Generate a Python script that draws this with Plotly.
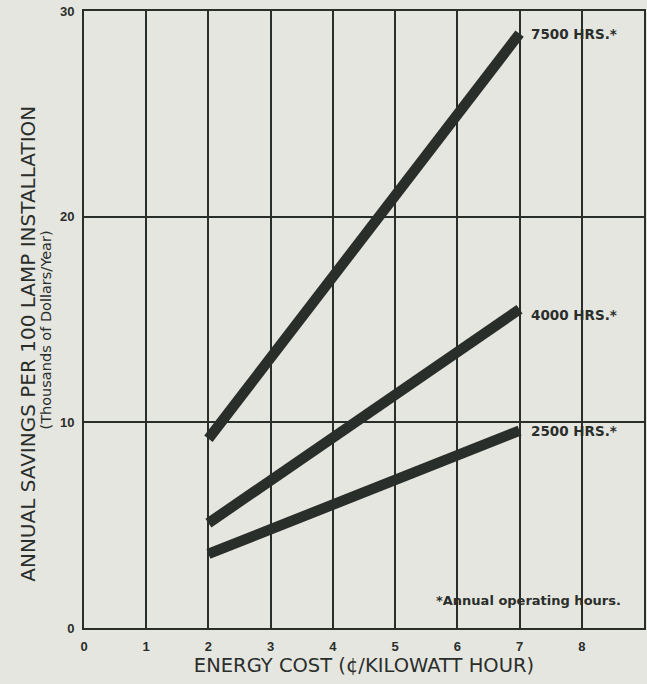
import plotly.graph_objects as go

# Energy cost (cents per kWh) at the two ends of each savings line
energy_cost = [2, 7]

# Annual savings per 100-lamp installation, thousands of dollars per year
savings_7500 = [9.2, 28.9]
savings_4000 = [5.1, 15.5]
savings_2500 = [3.6, 9.6]

series_names = ["7500 HRS.*", "4000 HRS.*", "2500 HRS.*"]
series_values = [savings_7500, savings_4000, savings_2500]

x_ticks = [0, 1, 2, 3, 4, 5, 6, 7, 8, 9]
y_ticks = [0, 10, 20, 30]

INK = "#2a2e2b"
PAPER = "#e6e6e0"
FONT = "Liberation Sans, Arial, Helvetica, sans-serif"
WIDE = "DejaVu Sans, Verdana, sans-serif"

fig = go.Figure()

for name, vals in zip(series_names, series_values):
    fig.add_trace(go.Scatter(
        x=energy_cost, y=vals, mode="lines", name=name,
        line=dict(color=INK, width=10.5),
        hoverinfo="x+y+name",
    ))

# Hour labels at the right end of each line
label_shift = {"7500 HRS.*": 0, "4000 HRS.*": -6, "2500 HRS.*": 0}
for name, vals in zip(series_names, series_values):
    fig.add_annotation(
        x=energy_cost[-1], y=vals[-1], xref="x", yref="y",
        text=name, showarrow=False, xanchor="left", yanchor="middle",
        xshift=9, yshift=label_shift[name],
        font=dict(family=WIDE, size=13.5, color=INK, weight="bold"),
    )

# Footnote
fig.add_annotation(
    x=0.962, y=0.045, xref="paper", yref="paper",
    text="*Annual operating hours.", showarrow=False,
    xanchor="right", yanchor="middle",
    font=dict(family=WIDE, size=13, color=INK, weight="bold"),
)

# Two-line vertical axis title
fig.add_annotation(
    x=-0.099, y=0.46, xref="paper", yref="paper",
    text="ANNUAL SAVINGS PER 100 LAMP INSTALLATION", showarrow=False,
    textangle=-90, xanchor="center", yanchor="middle",
    font=dict(family=WIDE, size=20, color=INK),
)
fig.add_annotation(
    x=-0.067, y=0.483, xref="paper", yref="paper",
    text="(Thousands of Dollars/Year)", showarrow=False,
    textangle=-90, xanchor="center", yanchor="middle",
    font=dict(family=WIDE, size=14.5, color=INK),
)

fig.update_layout(
    width=647, height=684,
    margin=dict(l=84, r=1, t=11, b=56),
    paper_bgcolor=PAPER, plot_bgcolor=PAPER,
    showlegend=False,
    xaxis=dict(
        range=[0, 9], tickvals=x_ticks, ticktext=[str(v) for v in x_ticks],
        showgrid=True, gridcolor=INK, gridwidth=2,
        showline=True, linecolor=INK, linewidth=2, mirror=True,
        zeroline=False, ticks="outside", ticklen=5, tickcolor="rgba(0,0,0,0)",
        tickfont=dict(family=FONT, size=13, color=INK, weight="bold"),
        title=dict(text="ENERGY COST (¢/KILOWATT HOUR)", standoff=6,
                   font=dict(family=WIDE, size=19.5, color=INK)),
    ),
    yaxis=dict(
        range=[0, 30], tickvals=y_ticks, ticktext=[str(v) for v in y_ticks],
        showgrid=True, gridcolor=INK, gridwidth=2,
        showline=True, linecolor=INK, linewidth=2, mirror=True,
        zeroline=False, ticks="outside", ticklen=5, tickcolor="rgba(0,0,0,0)",
        tickfont=dict(family=FONT, size=13, color=INK, weight="bold"),
    ),
)

fig.write_html("out.html")
